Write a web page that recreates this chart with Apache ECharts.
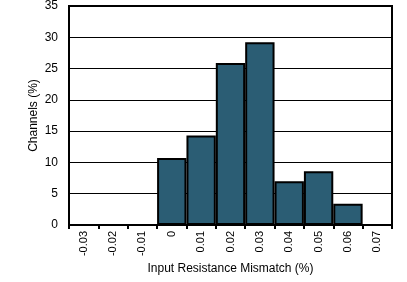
<!DOCTYPE html>
<html><head><meta charset="utf-8">
<script src="https://cdn.jsdelivr.net/npm/echarts@6/dist/echarts.min.js"></script>
<style>html,body{margin:0;padding:0;background:#fff}#c{width:407px;height:282px}</style>
</head><body><div id="c"></div>
<script>
var categories = ['-0.03','-0.02','-0.01','0','0.01','0.02','0.03','0.04','0.05','0.06','0.07'];
var channels = [0, 0, 0, 10.7, 14.3, 25.9, 29.2, 7.0, 8.6, 3.4, 0];
var yTicks = {min: 0, max: 35, interval: 5};

var font = 'Liberation Sans, Arial, Helvetica, sans-serif';
var chart = echarts.init(document.getElementById('c'), null, {renderer: 'canvas'});
chart.setOption({
  animation: false,
  grid: {left: 69, right: 15, top: 5, bottom: 57, show: true, borderColor: '#000', borderWidth: 2, backgroundColor: 'transparent'},
  xAxis: {
    type: 'category', data: categories, boundaryGap: true,
    name: 'Input Resistance Mismatch (%)', nameLocation: 'middle', nameGap: 38, nameMoveOverlap: false,
    nameTextStyle: {color: '#000', fontFamily: font, fontSize: 12},
    axisLine: {lineStyle: {color: '#000', width: 2}},
    axisTick: {show: true, length: 4, lineStyle: {color: '#000', width: 2}},
    axisLabel: {rotate: 90, color: '#000', fontFamily: font, fontSize: 11, margin: 6},
    splitLine: {show: false}
  },
  yAxis: {
    type: 'value', min: yTicks.min, max: yTicks.max, interval: yTicks.interval,
    name: 'Channels (%)', nameLocation: 'middle', nameGap: 29, nameMoveOverlap: false,
    nameTextStyle: {color: '#000', fontFamily: font, fontSize: 12},
    axisLine: {show: true, lineStyle: {color: '#000', width: 2}},
    axisTick: {show: false},
    axisLabel: {color: '#000', fontFamily: font, fontSize: 12, margin: 11},
    splitLine: {show: true, lineStyle: {color: '#000', width: 1}}
  },
  series: [{
    type: 'bar', data: channels, barWidth: '100%', barGap: '0%',
    itemStyle: {color: '#2b5d74', borderColor: '#000', borderWidth: 2}
  }]
});
</script></body></html>
